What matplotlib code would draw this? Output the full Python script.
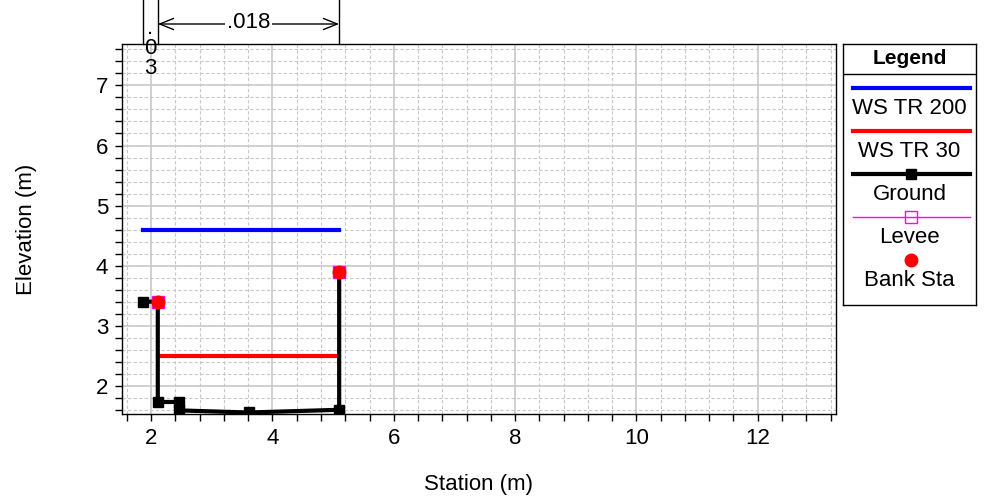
import matplotlib
matplotlib.use("Agg")
import matplotlib.pyplot as plt
import matplotlib.transforms as mtransforms
from matplotlib.ticker import MultipleLocator

plt.rcParams["font.family"] = ["Liberation Sans", "DejaVu Sans"]

# cross section data (station, elevation in m)
ground_sta = [1.87, 2.11, 2.11, 2.46, 2.46, 3.61, 5.10, 5.10]
ground_elev = [3.40, 3.40, 1.73, 1.73, 1.59, 1.555, 1.60, 3.90]

ws200_sta = [1.87, 5.10]
ws200_elev = [4.60, 4.60]
ws30_sta = [2.11, 5.10]
ws30_elev = [2.50, 2.50]

bank_sta = [2.11, 5.10]
bank_elev = [3.40, 3.90]
levee_sta = [2.11, 5.10]
levee_elev = [3.40, 3.90]

# Manning's n breaks and values
n_break_sta = [1.87, 2.11, 5.10]
n_values = [".03", ".018"]

legend_labels = ["WS TR 200", "WS TR 30", "Ground", "Levee", "Bank Sta"]

fig = plt.figure(figsize=(9.84, 4.98), dpi=100)
ax = fig.add_axes([122 / 984, 1 - 414 / 498, 714 / 984, 370 / 498])

ax.set_xlim(1.52, 13.29)
ax.set_ylim(1.53, 7.69)

ax.xaxis.set_major_locator(MultipleLocator(2))
ax.xaxis.set_minor_locator(MultipleLocator(0.4))
ax.yaxis.set_major_locator(MultipleLocator(1))
ax.yaxis.set_minor_locator(MultipleLocator(0.2))
ax.grid(which="major", color="#c8c8c8", lw=1.2, ls="-")
ax.grid(which="minor", color="#c8c8c8", lw=0.8, ls=(0, (3, 2)))
ax.set_axisbelow(True)
ax.tick_params(which="both", direction="out", labelsize=16, width=1, length=5)
ax.tick_params(axis="x", pad=5)
ax.tick_params(axis="y", pad=5)
for s in ax.spines.values():
    s.set_linewidth(1)

ax.plot(ws200_sta, ws200_elev, color="#0000ff", lw=3)
ax.plot(ws30_sta, ws30_elev, color="#ff0000", lw=3)
ax.plot(ground_sta, ground_elev, color="black", lw=3, marker="s", ms=6.5)
ax.plot(levee_sta, levee_elev, ls="none", marker="s", ms=9, mfc="none", mec="#ff00ff", mew=1)
ax.plot(bank_sta, bank_elev, ls="none", marker="o", ms=9, color="#ff0000")

ax.set_xlabel("Station (m)", fontsize=16, labelpad=18)
ax.set_ylabel("Elevation (m)", fontsize=16, labelpad=42)

# n value annotation above the plot
trans = mtransforms.blended_transform_factory(ax.transData, fig.transFigure)
for s in n_break_sta:
    ax.plot([s, s], [1 - 44 / 498, 1.0], color="black", lw=1, transform=trans, clip_on=False)

xc = (n_break_sta[0] + n_break_sta[1]) / 2
for i, ch in enumerate(n_values[0]):
    ax.text(xc, 1 - (34 + 20 * i) / 498, ch, ha="center", va="baseline", fontsize=16,
            transform=trans)

y_arrow = 1 - 24 / 498
ax.annotate("", xy=(n_break_sta[1], y_arrow), xytext=(n_break_sta[2], y_arrow),
            xycoords=trans, textcoords=trans,
            arrowprops=dict(arrowstyle="<->,head_length=1.0,head_width=0.4", lw=1, color="black",
                            shrinkA=0, shrinkB=0))
ax.text((n_break_sta[1] + n_break_sta[2]) / 2, y_arrow + 1 / 498, n_values[1], ha="center",
        va="center", fontsize=16, transform=trans,
        bbox=dict(facecolor="white", edgecolor="none", pad=1))

# legend panel drawn by hand
lax = fig.add_axes([843 / 984, 1 - 305 / 498, 133 / 984, 261 / 498])
lax.set_xlim(0, 133)
lax.set_ylim(261, 0)
lax.set_xticks([])
lax.set_yticks([])
for s in lax.spines.values():
    s.set_linewidth(1)
lax.axhline(30, color="black", lw=1)
lax.text(66.5, 14, "Legend", ha="center", va="center", fontsize=15, fontweight="bold")

styles = [
    dict(color="#0000ff", lw=3),
    dict(color="#ff0000", lw=3),
    dict(color="black", lw=3, marker="s", ms=6.5),
    dict(color="#ff00ff", lw=1, marker="s", ms=9, mfc="none", mec="#ff00ff"),
    dict(color="#ff0000", lw=0, marker="o", ms=9),
]
for i, (lab, st) in enumerate(zip(legend_labels, styles)):
    yl = 44 + 43.1 * i
    if st["lw"] > 0:
        lax.plot([10, 127], [yl, yl], color=st["color"], lw=st["lw"])
    if "marker" in st:
        lax.plot([68], [yl], ls="none", **{k: v for k, v in st.items() if k != "lw"})
    lax.text(66.5, yl + 20, lab, ha="center", va="center", fontsize=16)

fig.savefig("out.png", dpi=100)
